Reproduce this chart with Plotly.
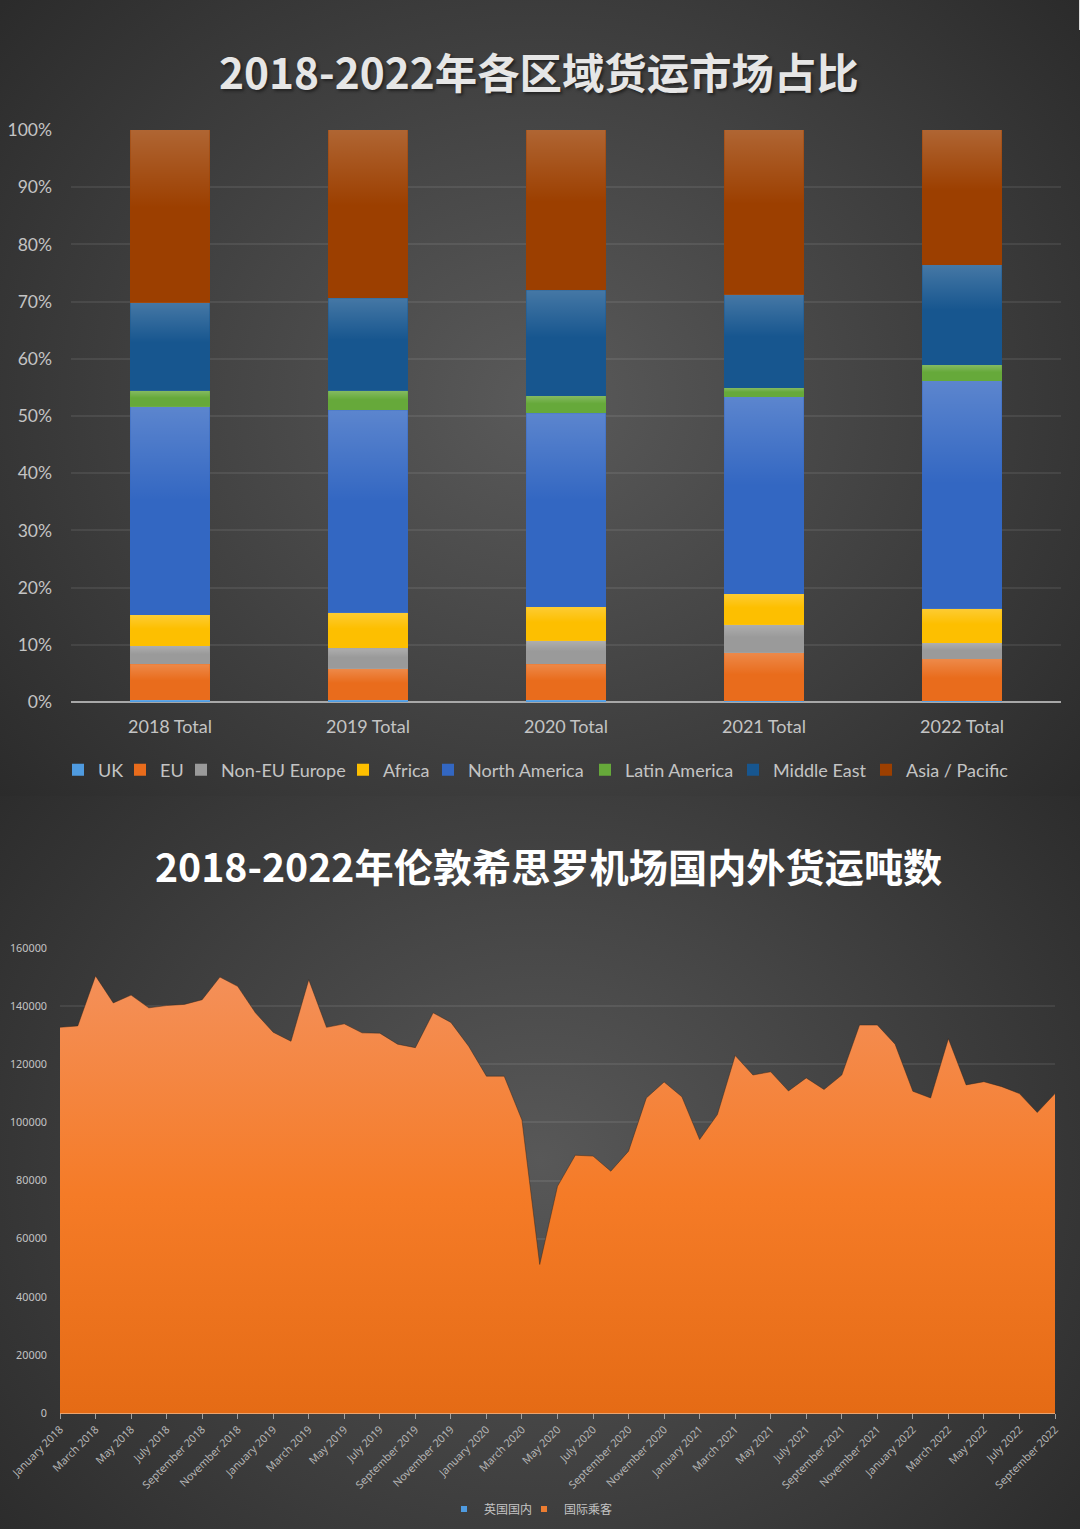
import base64
import plotly.graph_objects as go

years = ["2018 Total", "2019 Total", "2020 Total", "2021 Total", "2022 Total"]
percent_ticks = [0, 10, 20, 30, 40, 50, 60, 70, 80, 90, 100]

# share of freight per region, percent
uk = [0.3, 0.3, 0.3, 0.1, 0.1]
eu = [6.3, 5.5, 6.3, 8.5, 7.4]
non_eu = [3.2, 3.6, 4.1, 4.9, 2.8]
africa = [5.4, 6.2, 5.9, 5.4, 6.0]
north_america = [36.4, 35.4, 33.9, 34.4, 39.8]
latin_america = [2.8, 3.4, 3.0, 1.6, 2.8]
middle_east = [15.4, 16.2, 18.5, 16.3, 17.5]
asia_pacific = [30.2, 29.4, 28.0, 28.8, 23.6]

month_names = ["January", "February", "March", "April", "May", "June", "July",
               "August", "September", "October", "November", "December"]
months = [f"{m} {y}" for y in range(2018, 2023) for m in month_names][:57]

intl_tonnes = [
    132700, 133200, 150400, 141100, 143800, 139400, 140200, 140600, 142200, 150000, 146800, 137700,
    131000, 127900, 149100, 132700, 133900, 130800, 130700, 126900, 125700, 137700, 134400, 126200,
    115900, 115900, 100800, 51100, 78000, 88700, 88400, 83200, 90100, 108400, 113900, 108800,
    94100, 102700, 123000, 116300, 117400, 110800, 115300, 111300, 116300, 133500, 133500, 126900,
    110700, 108400, 128800, 112900, 114000, 112300, 109900, 103400, 109900,
]
uk_tonnes = [0] * 57
tonne_ticks = [0, 20000, 40000, 60000, 80000, 100000, 120000, 140000, 160000]

regions = [
    ("UK", uk, "#4f9be0"),
    ("EU", eu, "#e96c1c"),
    ("Non-EU Europe", non_eu, "#9a9a9a"),
    ("Africa", africa, "#fdbf00"),
    ("North America", north_america, "#3367c2"),
    ("Latin America", latin_america, "#66a93a"),
    ("Middle East", middle_east, "#17568f"),
    ("Asia / Pacific", asia_pacific, "#9c3f00"),
]
# where each legend label starts, px
region_legend_x = [98, 160, 221, 383, 468, 625, 773, 906]
lower_legend_x = [484, 564]

W, H = 1080, 1529
GREY = "#c4c4c4"
CJK = "Noto Sans CJK SC"
LEGEND_PAD = 40  # legend box edge to label text

# the two dark panels with their soft centre glow
bg_svg = f"""<svg xmlns="http://www.w3.org/2000/svg" width="{W}" height="{H}" viewBox="0 0 {W} {H}">
<defs>
<radialGradient id="a" gradientUnits="userSpaceOnUse" cx="0" cy="0" r="1" gradientTransform="translate(540 400) scale(700 620)">
<stop offset="0" stop-color="#5a5a5a"/><stop offset="1" stop-color="#2b2b2b"/></radialGradient>
<radialGradient id="b" gradientUnits="userSpaceOnUse" cx="0" cy="0" r="1" gradientTransform="translate(540 1160) scale(700 620)">
<stop offset="0" stop-color="#585858"/><stop offset="1" stop-color="#2b2b2b"/></radialGradient>
</defs>
<rect width="{W}" height="796" fill="url(#a)"/>
<rect y="796" width="{W}" height="{H - 796}" fill="url(#b)"/>
<rect x="{W - 1}" width="1" height="30" fill="#dddddd"/>
</svg>"""
bg_uri = "data:image/svg+xml;base64," + base64.b64encode(bg_svg.encode()).decode()

fig = go.Figure()
legends = {}


def add_legend(n, x_px, y_px, font):
    key = "legend" if n == 1 else f"legend{n}"
    legends[key] = dict(orientation="h", x=(x_px - LEGEND_PAD) / W, xanchor="left", y=1 - y_px / H, yanchor="middle",
                        bgcolor="rgba(0,0,0,0)", font=font)
    return key


cum = [0] * len(years)
for n, (name, vals, color) in enumerate(regions):
    leg = add_legend(n + 1, region_legend_x[n], 770, dict(family="Lato", size=18, color=GREY))
    fig.add_trace(go.Bar(x=list(range(5)), y=vals, name=name, marker_color=color, marker_line_width=0,
                         width=0.4, xaxis="x", yaxis="y", legend=leg))
    # lighter top on every block
    for i, v in enumerate(vals):
        fig.add_trace(go.Scatter(
            x=[i - 0.2, i + 0.2, i + 0.2, i - 0.2, i - 0.2],
            y=[cum[i], cum[i], cum[i] + v, cum[i] + v, cum[i]],
            mode="none", fill="toself", showlegend=False, hoverinfo="skip",
            fillgradient=dict(type="vertical", colorscale=[
                [0, "rgba(255,255,255,0)"], [0.55, "rgba(255,255,255,0)"], [1, "rgba(255,255,255,0.2)"]]),
            xaxis="x", yaxis="y"))
        cum[i] += v

fig.add_trace(go.Scatter(x=months, y=uk_tonnes, name="英国国内", mode="lines", line=dict(color="#5b9bd5", width=1),
                         showlegend=False, xaxis="x2", yaxis="y2"))
fig.add_trace(go.Scatter(
    x=months, y=intl_tonnes, name="国际乘客", mode="lines", line=dict(color="rgba(50,35,25,0.45)", width=1),
    fill="tozeroy", showlegend=False,
    fillgradient=dict(type="vertical", colorscale=[[0, "#e56b15"], [0.5, "#f57b27"], [1, "#f49059"]]),
    xaxis="x2", yaxis="y2"))
# legend swatches for the lower chart
small_font = dict(family=CJK, size=12, color=GREY)
fig.add_trace(go.Scatter(x=[None], y=[None], name="英国国内", mode="markers",
                         marker=dict(symbol="square", size=6, color="#4f9be0"), xaxis="x2", yaxis="y2",
                         legend=add_legend(9, lower_legend_x[0], 1509, small_font)))
fig.add_trace(go.Scatter(x=[None], y=[None], name="国际乘客", mode="markers",
                         marker=dict(symbol="square", size=6, color="#ed7d31"), xaxis="x2", yaxis="y2",
                         legend=add_legend(10, lower_legend_x[1], 1509, small_font)))

fig.update_layout(
    width=W, height=H, margin=dict(l=0, r=0, t=0, b=0, autoexpand=False),
    paper_bgcolor="#2b2b2b", plot_bgcolor="rgba(0,0,0,0)",
    barmode="stack", hovermode=False,
    font=dict(family="Lato", color=GREY),
    images=[dict(source=bg_uri, xref="paper", yref="paper", x=0, y=1, sizex=1, sizey=1,
                 xanchor="left", yanchor="top", sizing="stretch", layer="below")],
    xaxis=dict(domain=[71 / W, 1061 / W], range=[-0.5, 4.5], tickvals=list(range(5)), ticktext=years,
               showgrid=False, zeroline=False, showline=False,
               ticklabelstandoff=12, tickfont=dict(size=18, color=GREY), anchor="y"),
    yaxis=dict(domain=[1 - 702 / H, 1 - 130 / H], range=[0, 100], tickvals=percent_ticks,
               ticktext=[f"{p}%" for p in percent_ticks],
               gridcolor="rgba(255,255,255,0.08)", gridwidth=1.5, zeroline=True, zerolinecolor="#a8a8a8", zerolinewidth=2,
               ticklabelstandoff=18, tickfont=dict(size=17.5, color=GREY), anchor="x"),
    xaxis2=dict(domain=[60 / W, 1055 / W], type="category", categoryorder="array", categoryarray=months,
                range=[0, 56], tickvals=months[::2], ticktext=months[::2], tickangle=-45,
                showgrid=False, zeroline=False, showline=True, linecolor="#e9a370", linewidth=1,
                ticks="outside", ticklen=5, tickcolor="#a0a0a0",
                tickfont=dict(family="Noto Sans", size=10.8, color="#b4b4b4"), anchor="y2"),
    yaxis2=dict(domain=[1 - 1413 / H, 1 - 948 / H], range=[0, 160000], tickvals=tonne_ticks, tickformat="d",
                gridcolor="rgba(255,255,255,0.08)", gridwidth=1.5, zeroline=False, showline=False,
                ticklabelstandoff=12, tickfont=dict(family="Noto Sans", size=10.8, color="#c4c4c4"), anchor="x2"),
    annotations=[
        dict(text="<b>2018-2022年各区域货运市场占比</b>", xref="paper", yref="paper", x=539 / W, y=1 - 71 / H,
             xanchor="center", yanchor="middle", showarrow=False,
             font=dict(family=CJK, size=42.4, color="#e6e6e6", shadow="2px 2px 3px #222")),
        dict(text="<b>2018-2022年伦敦希思罗机场国内外货运吨数</b>", xref="paper", yref="paper", x=548 / W, y=1 - 865 / H,
             xanchor="center", yanchor="middle", showarrow=False,
             font=dict(family=CJK, size=39.2, color="#ffffff")),
    ],
    **legends,
)

fig.write_html("out.html", config=dict(displayModeBar=False), post_script="document.body.style.margin='0';")
